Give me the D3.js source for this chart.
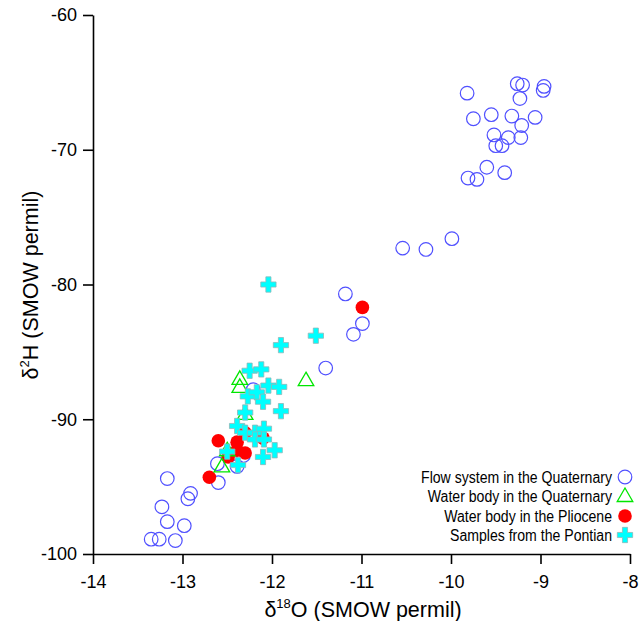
<!DOCTYPE html>
<html>
<head>
<meta charset="utf-8">
<script src="https://cdn.jsdelivr.net/npm/d3@7/dist/d3.min.js"></script>
<style>
  body { margin: 0; background: #fff; }
  text { font-family: Arial, "Liberation Sans", sans-serif; }
</style>
</head>
<body>
<div class="chart-box"></div>
<script>
// ---------------------------//
//            DATA            //
// ---------------------------//
// Flow system in the Quaternary (open blue circles)
const flowO = [-9.82,-9.26,-9.20,-8.96,-8.97,-9.23,-9.75,-9.55,-9.32,-9.06,-9.21,-9.52,-9.36,-9.22,-9.50,-9.43,-9.60,-9.40,-9.81,-9.71,
               -10.54,-10.28,-9.99,-11.18,-10.99,-11.09,-11.40,-12.21,-12.61,-12.60,-12.39,-12.32,
               -13.17,-12.91,-12.94,-13.23,-13.17,-12.98,-13.35,-13.26,-13.08];
const flowH = [-65.8,-65.1,-65.2,-65.3,-65.6,-66.2,-67.7,-67.4,-67.5,-67.6,-68.2,-68.9,-69.1,-69.1,-69.7,-69.7,-71.3,-71.7,-72.1,-72.2,
               -77.3,-77.4,-76.6,-80.7,-82.9,-83.7,-86.2,-87.8,-93.3,-94.7,-93.5,-92.7,
               -94.4,-95.5,-95.9,-96.5,-97.6,-97.9,-98.9,-98.9,-99.0];

// Water body in the Quaternary (green triangles)
const quatO = [-12.36,-12.36,-11.62,-12.30,-12.50,-12.56];
const quatH = [-87.0,-87.6,-87.1,-89.6,-92.3,-93.5];

// Water body in the Pliocene (red dots)
const plioO = [-10.99,-12.60,-12.39,-12.30,-12.10,-12.30,-12.39,-12.49,-12.70];
const plioH = [-81.7,-91.6,-91.7,-91.0,-91.4,-92.5,-92.3,-92.8,-94.3];

// Samples from the Pontian (cyan crosses)
const pontO = [-12.04,-11.51,-11.90,-12.25,-12.12,-12.04,-11.92,-12.27,-12.17,-12.10,-11.90,-12.30,
               -12.39,-12.30,-12.19,-12.09,-12.19,-12.09,-11.97,-12.10,-12.50,-12.38];
const pontH = [-80.0,-83.8,-84.5,-86.4,-86.3,-87.5,-87.6,-88.3,-88.0,-88.7,-89.4,-89.5,
               -90.5,-91.0,-91.0,-90.7,-91.5,-91.5,-92.3,-92.8,-92.4,-93.4];

const xTicks = [-14,-13,-12,-11,-10,-9,-8];
const yTicks = [-100,-90,-80,-70,-60];
const legendLabels = ["Flow system in the Quaternary","Water body in the Quaternary",
                      "Water body in the Pliocene","Samples from the Pontian"];

const zip = (a, b) => a.map((v, i) => ({o: v, h: b[i]}));

// ---------------------------//
//         SVG + SCALES       //
// ---------------------------//
const WIDTH = 643, HEIGHT = 621;
const svg = d3.select(".chart-box").append("svg")
    .attr("width", WIDTH)
    .attr("height", HEIGHT);

const x = d3.scaleLinear().domain([-14, -8]).range([93, 630]);
const y = d3.scaleLinear().domain([-100, -60]).range([554, 15]);

// axes
const xAxis = svg.append("g")
    .attr("transform", `translate(0,${y(-100)})`)
    .call(d3.axisBottom(x).tickValues(xTicks).tickFormat(d => String(d))
        .tickSize(10).tickSizeOuter(0).tickPadding(11));
const yAxis = svg.append("g")
    .attr("transform", `translate(${x(-14)},0)`)
    .call(d3.axisLeft(y).tickValues(yTicks).tickFormat(d => String(d))
        .tickSize(10).tickSizeOuter(0).tickPadding(6));

[xAxis, yAxis].forEach(g => {
    g.selectAll("path, line").attr("stroke", "#000").attr("stroke-width", 1.6);
    g.selectAll("text").attr("fill", "#000").style("font-size", "18px");
});

// axis titles
const xt = svg.append("text")
    .attr("x", 363).attr("y", 617)
    .attr("text-anchor", "middle")
    .style("font-size", "21.5px");
xt.append("tspan").text("δ");
xt.append("tspan").attr("dy", -9).style("font-size", "13px").text("18");
xt.append("tspan").attr("dy", 9).text("O (SMOW permil)");

const yt = svg.append("text")
    .attr("transform", "translate(38,285) rotate(-90)")
    .attr("text-anchor", "middle")
    .style("font-size", "21.5px");
yt.append("tspan").text("δ");
yt.append("tspan").attr("dy", -9).style("font-size", "13px").text("2");
yt.append("tspan").attr("dy", 9).text("H (SMOW permil)");

// ---------------------------//
//           MARKERS          //
// ---------------------------//
const triPath = d3.symbol(d3.symbolTriangle, 105)();
const crossPath = d3.symbol(d3.symbolCross, 130)();

const drawCircle = (g, cx, cy) => g.append("circle")
    .attr("cx", cx).attr("cy", cy).attr("r", 6.8)
    .attr("fill", "none").attr("stroke", "#5050ff").attr("stroke-width", 1.2);
const drawDot = (g, cx, cy) => g.append("circle")
    .attr("cx", cx).attr("cy", cy).attr("r", 6.8)
    .attr("fill", "#ff0000");
const drawTri = (g, cx, cy) => g.append("path")
    .attr("d", triPath).attr("transform", `translate(${cx},${cy + 1})`)
    .attr("fill", "none").attr("stroke", "#00e600").attr("stroke-width", 1.3);
const drawCross = (g, cx, cy) => g.append("path")
    .attr("d", crossPath).attr("transform", `translate(${cx},${cy})`)
    .attr("fill", "#00ffff").attr("stroke", "#8fb8b8").attr("stroke-width", 0.8);

const plot = svg.append("g");
zip(flowO, flowH).forEach(d => drawCircle(plot, x(d.o), y(d.h)));
zip(plioO, plioH).forEach(d => drawDot(plot, x(d.o), y(d.h)));
zip(quatO, quatH).forEach(d => drawTri(plot, x(d.o), y(d.h)));
zip(pontO, pontH).forEach(d => drawCross(plot, x(d.o), y(d.h)));

// ---------------------------//
//           LEGEND           //
// ---------------------------//
const legend = svg.append("g");
const rowY = [477, 496, 516, 535];
const drawers = [drawCircle, drawTri, drawDot, drawCross];
legendLabels.forEach((lab, i) => {
    const t = legend.append("text")
        .attr("x", 612).attr("y", rowY[i] + 5.5)
        .attr("text-anchor", "end")
        .style("font-size", "16px")
        .text(lab);
    const len = t.node().getComputedTextLength();
    t.attr("textLength", len * 0.88).attr("lengthAdjust", "spacingAndGlyphs");
    drawers[i](legend, 625, rowY[i]);
});
</script>
</body>
</html>
